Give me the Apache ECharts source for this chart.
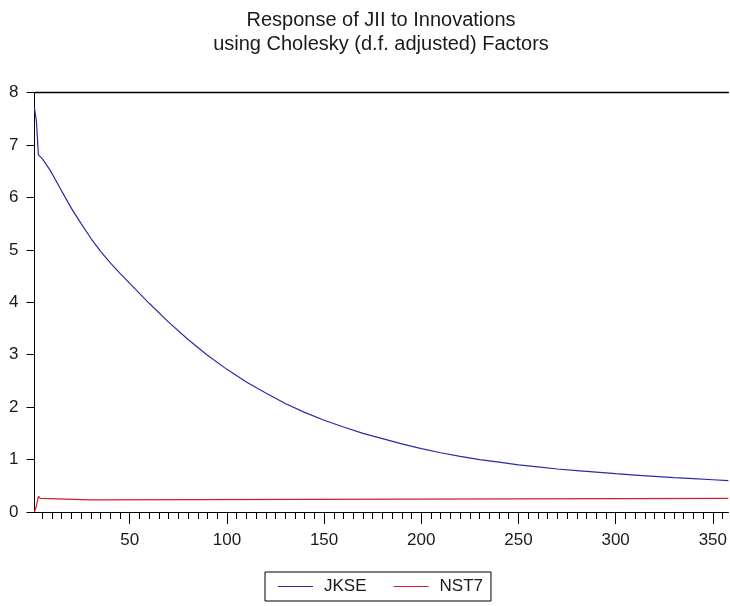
<!DOCTYPE html>
<html>
<head>
<meta charset="utf-8">
<script src="https://cdn.jsdelivr.net/npm/echarts@6/dist/echarts.min.js"></script>
<style>
html,body{margin:0;padding:0;background:#fff;}
#chart{width:730px;height:606px;}
</style>
</head>
<body>
<div id="chart"></div>
<script>
const titleLines = ['Response of JII to Innovations', 'using Cholesky (d.f. adjusted) Factors'];
const seriesNames = ['JKSE', 'NST7'];

const jkseX = [1, 2, 3, 5, 9, 15, 20, 25, 30, 35, 40, 45, 50, 60, 70, 80, 90, 100, 110, 120, 130, 140, 150, 160, 170, 180, 190, 200, 210, 220, 230, 240, 250, 260, 270, 280, 290, 300, 310, 320, 330, 340, 350, 358];
const jkseY = [7.70, 7.45, 6.81, 6.74, 6.52, 6.12, 5.79, 5.50, 5.22, 4.97, 4.75, 4.55, 4.36, 3.98, 3.62, 3.29, 2.99, 2.72, 2.48, 2.27, 2.07, 1.90, 1.75, 1.62, 1.50, 1.40, 1.30, 1.21, 1.13, 1.06, 1.00, 0.95, 0.90, 0.86, 0.82, 0.79, 0.76, 0.73, 0.705, 0.68, 0.655, 0.635, 0.615, 0.60];

const nst7X = [1, 2, 3, 4, 5, 30, 31, 358];
const nst7Y = [0.00, 0.12, 0.30, 0.26, 0.23, 0.23, 0.26, 0.26];

const xTickLabels = [50, 100, 150, 200, 250, 300, 350];
const xMinorTicks = [];
for (let v = 5; v <= 355; v += 5) xMinorTicks.push(v);
const yTickLabels = [0, 1, 2, 3, 4, 5, 6, 7, 8];

const xMin = 1, xMax = 358;
const font = 'Liberation Sans, Arial, sans-serif';
const textColor = '#1a1a1a';

function pairs(xs, ys) { return xs.map((x, i) => [x, ys[i]]); }

const chart = echarts.init(document.getElementById('chart'), null, {renderer: 'canvas'});
chart.setOption({
  animation: false,
  backgroundColor: '#fff',
  title: {
    text: titleLines.join('\n'),
    left: 381,
    textAlign: 'center',
    top: 8,
    padding: 0,
    textStyle: {fontFamily: font, fontSize: 20, fontWeight: 'normal', color: textColor, lineHeight: 24}
  },
  legend: {
    data: seriesNames,
    icon: 'rect',
    left: 265,
    top: 572,
    padding: [6, 8, 6, 13],
    itemGap: 27,
    itemWidth: 35,
    itemHeight: 1.2,
    borderColor: '#000',
    borderWidth: 1,
    textStyle: {fontFamily: font, fontSize: 17, color: textColor, padding: [0, 0, 0, 6]}
  },
  grid: {left: 34.5, right: 0, top: 92.5, bottom: 94, containLabel: false},
  xAxis: [
    {
      type: 'value', min: xMin, max: xMax, position: 'bottom',
      axisLine: {show: true, lineStyle: {color: '#000', width: 1}},
      axisTick: {show: true, customValues: xTickLabels, length: 12, lineStyle: {color: '#000'}},
      axisLabel: {show: true, customValues: xTickLabels, margin: 20, fontFamily: font, fontSize: 17, color: textColor},
      splitLine: {show: false}
    },
    {
      type: 'value', min: xMin, max: xMax, position: 'bottom', offset: 0,
      axisLine: {show: false},
      axisTick: {show: true, customValues: xMinorTicks, length: 7, lineStyle: {color: '#000'}},
      axisLabel: {show: false},
      splitLine: {show: false}
    },
    {
      type: 'value', min: xMin, max: xMax, position: 'top',
      axisLine: {show: true, lineStyle: {color: '#000', width: 1.3}},
      axisTick: {show: false}, axisLabel: {show: false}, splitLine: {show: false}
    }
  ],
  yAxis: {
    type: 'value', min: 0, max: 8, interval: 1,
    axisLine: {show: true, lineStyle: {color: '#000', width: 1}},
    axisTick: {show: true, length: 8, lineStyle: {color: '#000'}},
    axisLabel: {margin: 16, fontFamily: font, fontSize: 17, color: textColor,
      formatter: v => yTickLabels.includes(v) ? String(v) : ''},
    splitLine: {show: false}
  },
  series: [
    {
      name: seriesNames[0], type: 'line', xAxisIndex: 0, symbol: 'none',
      data: pairs(jkseX, jkseY),
      lineStyle: {color: '#2a2aa8', width: 1.2}, itemStyle: {color: '#2a2aa8'}
    },
    {
      name: seriesNames[1], type: 'line', xAxisIndex: 0, symbol: 'none',
      data: pairs(nst7X, nst7Y),
      lineStyle: {color: '#d0202c', width: 1.2}, itemStyle: {color: '#d0202c'}
    }
  ]
});
</script>
</body>
</html>
